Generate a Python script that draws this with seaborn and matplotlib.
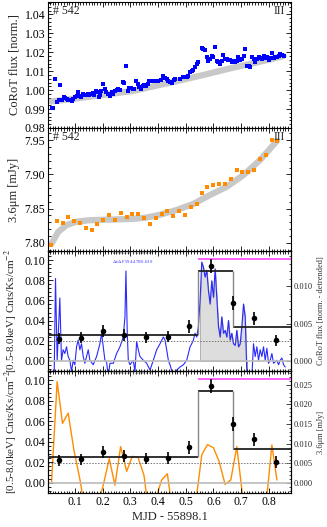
import numpy as np
import pandas as pd
import matplotlib
matplotlib.use("Agg")
import matplotlib.pyplot as plt
import seaborn as sns
from matplotlib.ticker import AutoMinorLocator, MultipleLocator

# ---------------- data ----------------
corot_t = [0.016, 0.022, 0.028, 0.036, 0.043, 0.048, 0.053, 0.060, 0.065, 0.070, 0.076, 0.082,
           0.088, 0.094, 0.100, 0.106, 0.110, 0.116, 0.122, 0.128, 0.134, 0.140, 0.146, 0.152,
           0.158, 0.164, 0.170, 0.175, 0.181, 0.186, 0.190,
           0.196, 0.202, 0.208, 0.214, 0.220, 0.227, 0.233, 0.239, 0.245, 0.251, 0.257, 0.263,
           0.272, 0.278, 0.284, 0.290, 0.297, 0.303, 0.309, 0.315, 0.321, 0.327, 0.333, 0.339,
           0.345, 0.351, 0.357, 0.363, 0.369, 0.375, 0.381, 0.387, 0.393, 0.399, 0.411, 0.419,
           0.425, 0.431, 0.437, 0.443, 0.450, 0.456, 0.462, 0.480, 0.492, 0.498, 0.504, 0.510,
           0.516, 0.522, 0.528, 0.534, 0.540, 0.546,
           0.558, 0.564, 0.570, 0.576, 0.582, 0.588, 0.594, 0.600, 0.606, 0.612, 0.618, 0.624,
           0.630, 0.636, 0.642, 0.648, 0.654, 0.660, 0.666, 0.672, 0.678, 0.684, 0.690, 0.697,
           0.703, 0.709, 0.715, 0.721, 0.727, 0.733, 0.739, 0.745, 0.751, 0.757, 0.763, 0.769,
           0.775, 0.781, 0.787, 0.793, 0.799, 0.805, 0.811, 0.817, 0.823, 0.829, 0.835, 0.841,
           0.847, 0.853]
corot_f = [0.9903, 0.9908, 1.0056, 0.9935, 0.9949, 1.0028, 0.9947, 0.9965, 0.9956, 0.9951, 0.9947, 0.9947,
           0.9944, 0.9951, 0.9961, 0.9970, 0.9988, 0.9970, 0.9965, 0.9979, 0.9974, 0.9974, 0.9979, 0.9974,
           0.9979, 0.9984, 0.9974, 0.9993, 0.9991, 0.9961, 0.9975,
           0.9996, 1.0032, 1.0005, 0.9988, 0.9979, 0.9970, 0.9988, 0.9979, 0.9993, 1.0000, 1.0004, 1.0000,
           1.0041, 1.0035, 1.0129, 0.9996, 1.0011, 1.0009, 1.0005, 1.0004, 1.0049, 1.0032, 1.0018, 1.0005,
           1.0023, 1.0028, 1.0023, 1.0032, 1.0046, 1.0049, 1.0049, 1.0048, 1.0049, 1.0049, 1.0053, 1.0076,
           1.0062, 1.0056, 1.0049, 1.0044, 1.0035, 1.0053, 1.0056, 1.0058, 1.0067, 1.0071, 1.0067, 1.0074,
           1.0093, 1.0099, 1.0106, 1.0123, 1.0138, 1.0146,
           1.0222, 1.0217, 1.0212, 1.0173, 1.0155, 1.0164, 1.0182, 1.0173, 1.0229, 1.0155, 1.0146, 1.0138,
           1.0155, 1.0185, 1.0164, 1.0162, 1.0159, 1.0159, 1.0146, 1.0152, 1.0150, 1.0152, 1.0176, 1.0159,
           1.0164, 1.0182, 1.0217, 1.0129, 1.0129, 1.0120, 1.0173, 1.0164, 1.0150, 1.0164, 1.0176, 1.0169,
           1.0164, 1.0182, 1.0169, 1.0176, 1.0159, 1.0169, 1.0194, 1.0169, 1.0173, 1.0176, 1.0182, 1.0190,
           1.0187, 1.0182]
corot_trend_t = [0.016, 0.10, 0.19, 0.31, 0.43, 0.55, 0.67, 0.79, 0.853]
corot_trend_f = [0.9940, 0.9955, 0.9972, 0.9996, 1.0035, 1.0075, 1.0118, 1.0157, 1.0180]

spitzer_t = [0.0156, 0.036, 0.0554, 0.0758, 0.0963, 0.118, 0.1397, 0.1602, 0.1807, 0.2024,
             0.2241, 0.2446, 0.2651, 0.2868, 0.3072, 0.3277, 0.3494, 0.3711, 0.3916, 0.4133,
             0.4338, 0.4555, 0.476, 0.4977, 0.5181, 0.5398, 0.5579, 0.5784, 0.6001, 0.6206,
             0.6422, 0.6627, 0.6844, 0.7049, 0.7266, 0.747, 0.7688, 0.7893, 0.811, 0.8291]
spitzer_f = [7.797, 7.832, 7.829, 7.838, 7.832, 7.8295, 7.822, 7.819, 7.827, 7.834,
             7.840, 7.834, 7.844, 7.838, 7.842, 7.842, 7.837, 7.828, 7.837, 7.842,
             7.846, 7.839, 7.846, 7.841, 7.852, 7.857, 7.873, 7.881, 7.885, 7.886,
             7.886, 7.893, 7.907, 7.904, 7.904, 7.907, 7.923, 7.929, 7.950, 7.949]
spitzer_trend_t = [0.016, 0.040, 0.070, 0.106, 0.154, 0.226, 0.311, 0.359, 0.407, 0.467,
                   0.528, 0.588, 0.648, 0.708, 0.768, 0.829]
spitzer_trend_f = [7.799, 7.816, 7.826, 7.831, 7.833, 7.834, 7.835, 7.837, 7.841, 7.848,
                   7.857, 7.870, 7.882, 7.899, 7.921, 7.949]

detr_corot_t = [0.0252, 0.0301, 0.0361, 0.0457, 0.0517, 0.0578, 0.0638, 0.0698, 0.0758, 0.0819,
                0.0879, 0.0939, 0.0999, 0.1060, 0.1120, 0.1180, 0.1240, 0.1301, 0.1361, 0.1421,
                0.1482, 0.1542, 0.1662, 0.1783, 0.1903, 0.1964, 0.2024, 0.2084, 0.2144, 0.2205,
                0.2265, 0.2386, 0.2506, 0.2626, 0.2747, 0.2807, 0.2843, 0.2891, 0.2928, 0.2988,
                0.3108, 0.3169, 0.3229, 0.3289, 0.3349, 0.3470, 0.3590, 0.3711, 0.3831, 0.3952,
                0.4072, 0.4193, 0.4253, 0.4313, 0.4374, 0.4434, 0.4554, 0.4675, 0.4795, 0.4916,
                0.5036, 0.5157, 0.5217, 0.5277, 0.5338, 0.5398, 0.5458, 0.5519, 0.5579, 0.5639,
                0.5699, 0.5760, 0.5820, 0.5880, 0.5940, 0.6001, 0.6061, 0.6121, 0.6182, 0.6242,
                0.6302, 0.6362, 0.6423, 0.6483, 0.6543, 0.6603, 0.6664, 0.6724, 0.6784, 0.6844,
                0.6905, 0.6965, 0.7025, 0.7086, 0.7146, 0.7206, 0.7266, 0.7327, 0.7387, 0.7447,
                0.7507, 0.7568, 0.7628, 0.7688, 0.7748, 0.7809, 0.7869, 0.7929, 0.7989, 0.8050,
                0.8110, 0.8170, 0.8291, 0.8351, 0.8411, 0.8471, 0.8532, 0.8592]
detr_corot_f = [-0.0021, 0.0110, 0.0001, 0.0084, 0.0001, 0.0015, 0.0010, 0.0019, 0.0006, 0.0001,
                -0.0014, 0.0001, -0.0005, 0.0019, 0.0028, 0.0015, 0.0023, 0.0006, -0.0003, 0.0006,
                0.0015, 0.0001, -0.0005, 0.0006, 0.0023, 0.0037, 0.0019, 0.0001, -0.0001, -0.0021,
                -0.0003, -0.0003, 0.0010, 0.0019, 0.0032, 0.0059, 0.0120, 0.0037, 0.0001, -0.0005,
                0.0001, -0.0014, 0.0026, 0.0015, 0.0006, 0.0001, -0.0003, -0.0012, 0.0001, 0.0015,
                0.0023, 0.0032, 0.0028, 0.0015, 0.0001, -0.0005, -0.0021, -0.0012, -0.0008, -0.0005,
                0.0001, 0.0019, 0.0023, 0.0028, 0.0037, 0.0032, 0.0046, 0.0081, 0.0132, 0.0125,
                0.0112, 0.0121, 0.0094, 0.0076, 0.0107, 0.0085, 0.0123, 0.0085, 0.0046, 0.0032,
                0.0059, 0.0037, 0.0041, 0.0032, 0.0054, 0.0028, 0.0037, 0.0023, 0.0021, 0.0041,
                0.0019, 0.0023, 0.0046, 0.0076, 0.0059, -0.0016, -0.0025, -0.0021, -0.0021, 0.0023,
                0.0006, 0.0019, 0.0001, 0.0015, 0.0006, 0.0019, 0.0001, 0.0017, -0.0003, 0.0001,
                0.0010, -0.0003, 0.0001, -0.0005, 0.0001, 0.0004, -0.0005, -0.0008]

detr_spitzer_f = [0.0000, 0.0258, 0.0152, 0.0178, 0.0085, 0.0010, -0.0080, -0.0100, -0.0060, -0.0005,
                  0.0062, -0.0005, 0.0093, 0.0030, 0.0068, 0.0066, 0.0020, -0.0100, -0.0040, 0.0008,
                  0.0024, -0.0090, -0.0120, -0.0120, -0.0100, -0.0030, 0.0072, 0.0098, 0.0090, 0.0055,
                  -0.0003, 0.0008, 0.0093, -0.0030, -0.0100, -0.0120, -0.0120, -0.0060, 0.0097, 0.0008]

xray_t = [0.043, 0.122, 0.200, 0.278, 0.357, 0.435, 0.513, 0.592, 0.670, 0.748, 0.826]
xray_rate = [0.0219, 0.0229, 0.0297, 0.0258, 0.0236, 0.0242, 0.0345, 0.0945, 0.0574, 0.0423, 0.0203]
xray_err = [0.0055, 0.0055, 0.0060, 0.0058, 0.0055, 0.0058, 0.0065, 0.0070, 0.0065, 0.0065, 0.0055]

block_edges = [0.0, 0.546, 0.670, 0.88]
block_rates = [0.0255, 0.0894, 0.0332]
mean_rate = 0.0195
flare_level = 0.101
flare_start = 0.546
fill_range = [0.546, 0.722]

XMIN, XMAX = 0.003, 0.880

# ---------------- style ----------------
sns.set_theme(style="ticks")
plt.rcParams['font.family'] = ['Liberation Serif', 'DejaVu Serif']
plt.rcParams['mathtext.fontset'] = 'stix'
plt.rcParams['axes.linewidth'] = 0.8

W, H = 327, 527
fig = plt.figure(figsize=(W / 100, H / 100), dpi=100)
left = 48 / W
width = (291 - 48) / W
bounds = [(2, 128), (128, 251), (251, 371), (371, 493)]
axes = [fig.add_axes([left, 1 - b / H, width, (b - t) / H]) for t, b in bounds]
ax1, ax2, ax3, ax4 = axes


def style(ax, right=True):
    ax.tick_params(which='both', direction='in', top=True, right=right,
                   labelsize=8.5, colors='black', width=0.6, pad=2)
    ax.tick_params(which='major', length=3.5)
    ax.tick_params(which='minor', length=1.8)
    ax.xaxis.set_major_locator(MultipleLocator(0.1))
    ax.xaxis.set_minor_locator(AutoMinorLocator(10))
    ax.yaxis.set_minor_locator(AutoMinorLocator(5))
    ax.set_xlim(XMIN, XMAX)
    for s in ax.spines.values():
        s.set_color('black')
        s.set_linewidth(0.8)


# ---- panel 1: CoRoT ----
sns.lineplot(x=corot_trend_t, y=corot_trend_f, ax=ax1, color='#c8c8c8', lw=4.5,
             sort=False, estimator=None)
sns.scatterplot(x=corot_t, y=corot_f, ax=ax1, color='#0000ff', marker='s', s=6,
                linewidth=0, zorder=3)
ax1.set_ylim(0.98, 1.0465)
ax1.yaxis.set_major_locator(MultipleLocator(0.01))
ax1.yaxis.set_major_formatter(matplotlib.ticker.FormatStrFormatter('%.2f'))
ax1.set_ylabel('CoRoT flux [norm.]', fontsize=9, labelpad=3)
style(ax1)
ax1.tick_params(labelbottom=False)

# ---- panel 2: Spitzer ----
sns.lineplot(x=spitzer_trend_t, y=spitzer_trend_f, ax=ax2, color='#c8c8c8', lw=4.5,
             sort=False, estimator=None)
sns.scatterplot(x=spitzer_t, y=spitzer_f, ax=ax2, color='#ff8c00', marker='s', s=6,
                linewidth=0, zorder=3)
ax2.set_ylim(7.788, 7.968)
ax2.yaxis.set_major_locator(MultipleLocator(0.05))
ax2.yaxis.set_major_formatter(matplotlib.ticker.FormatStrFormatter('%.2f'))
ax2.set_ylabel('3.6\u03bcm [mJy]', fontsize=9, labelpad=3)
style(ax2)
ax2.tick_params(labelbottom=False)

for ax in (ax1, ax2):
    ax.text(0.022, 0.975, '# 542', transform=ax.transAxes, ha='left', va='top', fontsize=8.5,
            zorder=10)
    ax.text(0.975, 0.975, 'III', transform=ax.transAxes, ha='right', va='top', fontsize=8.5,
            zorder=10)


# ---- panels 3 & 4: X-ray ----
def xray_panel(ax):
    ax.axhline(0.0, color='#bbbbbb', lw=1.2, zorder=1)
    ax.axhline(mean_rate, color='#777777', lw=0.7, ls=(0, (1.5, 1.5)), zorder=1)
    ax.hlines(block_rates, block_edges[:-1], block_edges[1:], color='#222222', lw=1.3, zorder=4)
    ax.vlines(block_edges[1:-1], [min(a, b) for a, b in zip(block_rates[:-1], block_rates[1:])],
              [max(a, b) for a, b in zip(block_rates[:-1], block_rates[1:])],
              color='#888888', lw=1.0, zorder=4)
    ax.hlines(flare_level, flare_start, XMAX, color='#ff55ff', lw=1.3, zorder=4)
    ax.errorbar(xray_t, xray_rate, yerr=xray_err, fmt='none', ecolor='black',
                elinewidth=1.2, capsize=0, zorder=6)
    sns.scatterplot(x=xray_t, y=xray_rate, ax=ax, color='black', s=16, linewidth=0, zorder=7)
    ax.set_ylim(-0.01, 0.109)
    ax.yaxis.set_major_locator(MultipleLocator(0.02))
    ax.yaxis.set_major_formatter(matplotlib.ticker.FormatStrFormatter('%.2f'))
    ax.set_ylabel('[0.5-8.0keV] Cnts/Ks/cm$^{-2}$', fontsize=8, labelpad=3)
    style(ax, right=False)
    ax.text(0.235, 0.1060, 'E$_{50}$/R$_{ph,50}$ 1.61/0.117', fontsize=3.3, color='#555555',
            ha='left', va='center', zorder=8)


xray_panel(ax3)
ax3.tick_params(labelbottom=False)
ax3.text(0.235, 0.0988, r'$\Delta$t/$\Delta$F 594.470/0.630', fontsize=3.3,
         color='#3333ff', ha='left', va='center', zorder=8)
xray_panel(ax4)
ax4.set_xlabel('MJD - 55898.1', fontsize=9, labelpad=2)

# twin axes
tw3 = ax3.twinx()
tw3.set_zorder(ax3.get_zorder() - 1)
ax3.patch.set_visible(False)
fill_t = [t for t in detr_corot_t if fill_range[0] <= t <= fill_range[1]]
fill_f = [f for t, f in zip(detr_corot_t, detr_corot_f) if fill_range[0] <= t <= fill_range[1]]
tw3.fill_between(fill_t, 0, fill_f, color='#dddddd', edgecolor='#999999', lw=0.5, zorder=1)
sns.lineplot(x=detr_corot_t, y=detr_corot_f, ax=tw3, color='#2a2aff', lw=0.8,
             sort=False, estimator=None, zorder=2)
tw3.set_ylim(-0.00133, 0.01467)
tw3.yaxis.set_major_locator(MultipleLocator(0.005))
tw3.yaxis.set_major_formatter(matplotlib.ticker.FormatStrFormatter('%.3f'))
tw3.set_ylabel('CoRoT flux [norm. - detrended]', fontsize=6, color='#333333', labelpad=3)

tw4 = ax4.twinx()
tw4.set_zorder(ax4.get_zorder() - 1)
ax4.patch.set_visible(False)
sns.lineplot(x=spitzer_t, y=detr_spitzer_f, ax=tw4, color='#ff8c00', lw=1.0,
             sort=False, estimator=None)
tw4.set_ylim(-0.0025, 0.0285)
tw4.yaxis.set_major_locator(MultipleLocator(0.005))
tw4.yaxis.set_major_formatter(matplotlib.ticker.FormatStrFormatter('%.3f'))
tw4.set_ylabel('3.6\u03bcm [mJy]', fontsize=6, color='#333333', labelpad=3)

for tw in (tw3, tw4):
    tw.tick_params(which='both', direction='in', right=True, labelsize=6, width=0.6, pad=2)
    tw.tick_params(which='major', length=3.5)
    tw.tick_params(which='minor', length=1.8)
    tw.yaxis.set_minor_locator(AutoMinorLocator(5))
    tw.set_xlim(XMIN, XMAX)
    for s in tw.spines.values():
        s.set_linewidth(0.8)
        s.set_color('black')

fig.savefig('out.png', dpi=100)
